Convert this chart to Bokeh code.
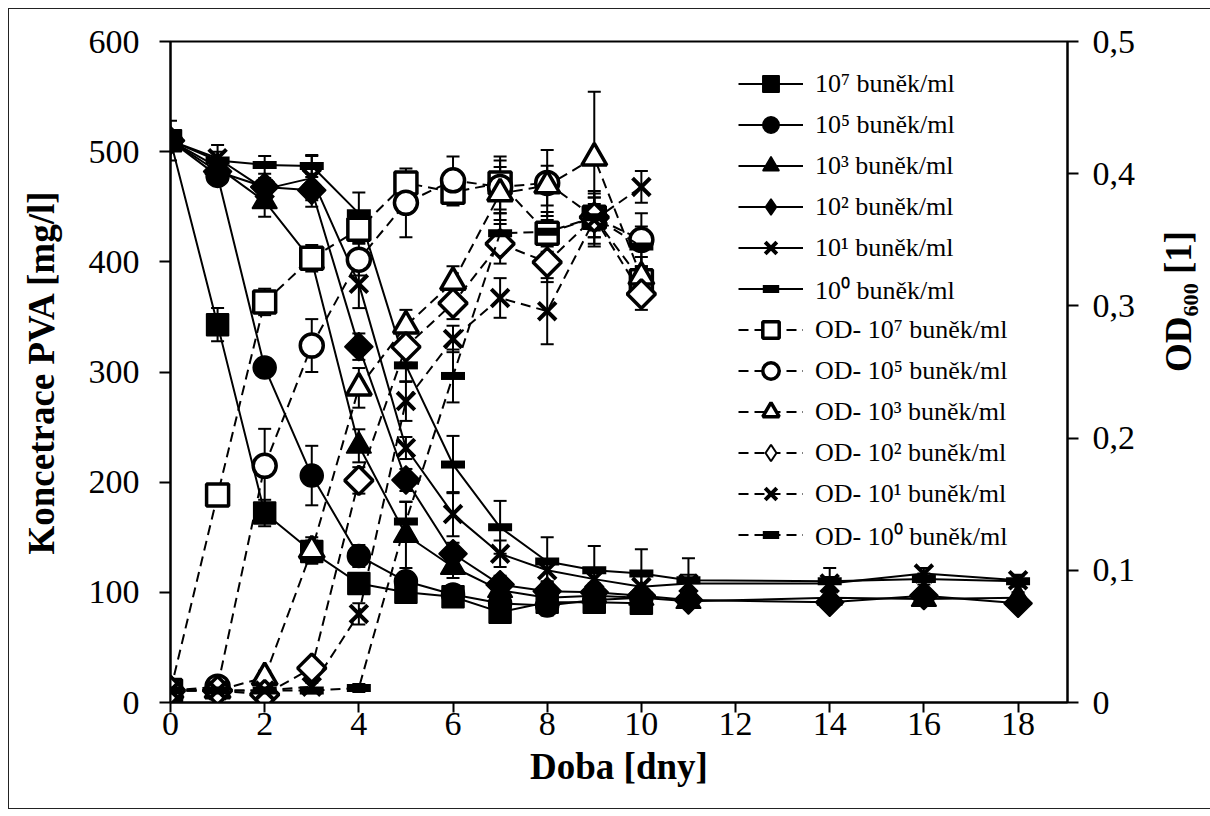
import math
from bokeh.plotting import figure
from bokeh.models import (Range1d, LinearAxis, FixedTicker, Legend, LegendItem,
                          Whisker, ColumnDataSource, TeeHead)
from bokeh.embed import file_html
from bokeh.resources import INLINE

# ---------------- data ----------------
days_a = [0, 1, 2, 3, 4, 5, 6, 7, 8, 9, 10]
days_b = [0, 1, 2, 3, 4, 5, 6, 7, 8, 9, 10, 11, 14, 16, 18]

pva_1e7 = [510, 343, 172, 137, 108, 100, 96, 82, 91, 91, 90]
pva_1e7_err = [5, 15, 12, 10, 5, 4, 4, 5, 5, 4, 4]
pva_1e5 = [510, 478, 304, 206, 133, 110, 98, 90, 88, 93, 95]
pva_1e5_err = [5, 8, 5, 27, 10, 6, 5, 5, 9, 5, 5]
pva_1e3 = [510, 486, 455, 401, 233, 152, 123, 102, 95, 97, 95, 92, 95, 94, 95]
pva_1e3_err = [5, 8, 14, 8, 15, 30, 10, 8, 8, 8, 8, 6, 5, 5, 5]
pva_1e2 = [510, 482, 468, 465, 323, 202, 135, 107, 101, 100, 97, 93, 91, 97, 90]
pva_1e2_err = [5, 8, 8, 15, 12, 10, 10, 8, 8, 8, 8, 6, 5, 5, 5]
pva_1e1 = [510, 494, 466, 476, 380, 231, 171, 135, 120, 112, 105, 108, 108, 117, 111]
pva_1e1_err = [5, 12, 8, 20, 22, 10, 20, 12, 10, 10, 10, 8, 6, 5, 5]
pva_1e0 = [510, 492, 488, 487, 444, 306, 216, 159, 128, 120, 117, 111, 110, 112, 110]
pva_1e0_err = [18, 8, 8, 10, 19, 15, 26, 24, 22, 22, 22, 20, 12, 5, 5]

od_1e7 = [0.009, 0.157, 0.303, 0.336, 0.358, 0.393, 0.386, 0.393, 0.355, 0.367, 0.319]
od_1e7_err = [0.002, 0.008, 0.010, 0.010, 0.010, 0.008, 0.010, 0.020, 0.010, 0.010, 0.010]
od_1e5 = [0.009, 0.012, 0.179, 0.270, 0.335, 0.378, 0.395, 0.390, 0.393, 0.367, 0.350]
od_1e5_err = [0.002, 0.005, 0.028, 0.020, 0.012, 0.026, 0.018, 0.020, 0.025, 0.020, 0.020]
od_1e3 = [0.009, 0.009, 0.019, 0.115, 0.238, 0.285, 0.318, 0.385, 0.391, 0.412, 0.322]
od_1e3_err = [0.002, 0.003, 0.005, 0.010, 0.015, 0.012, 0.012, 0.020, 0.015, 0.050, 0.015]
od_1e2 = [0.009, 0.009, 0.006, 0.026, 0.168, 0.269, 0.302, 0.347, 0.333, 0.367, 0.309]
od_1e2_err = [0.002, 0.002, 0.003, 0.005, 0.010, 0.012, 0.012, 0.015, 0.015, 0.015, 0.012]
od_1e1 = [0.009, 0.009, 0.009, 0.012, 0.067, 0.228, 0.275, 0.306, 0.296, 0.365, 0.390]
od_1e1_err = [0.002, 0.002, 0.002, 0.003, 0.008, 0.015, 0.010, 0.015, 0.025, 0.020, 0.012]
od_1e0 = [0.009, 0.009, 0.009, 0.009, 0.011, 0.137, 0.247, 0.355, 0.356, 0.367, 0.345]
od_1e0_err = [0.002, 0.002, 0.002, 0.002, 0.003, 0.015, 0.020, 0.015, 0.015, 0.015, 0.015]

pva_labels = ["10\u2077 bun\u011bk/ml", "10\u2075 bun\u011bk/ml", "10\u00b3 bun\u011bk/ml",
              "10\u00b2 bun\u011bk/ml", "10\u00b9 bun\u011bk/ml", "10\u2070 bun\u011bk/ml"]
od_labels = ["OD- " + s for s in pva_labels]

x_ticks = [0, 2, 4, 6, 8, 10, 12, 14, 16, 18]
y_ticks = [0, 100, 200, 300, 400, 500, 600]
od_ticks = [0, 0.1, 0.2, 0.3, 0.4, 0.5]
od_tick_labels = ["0", "0,1", "0,2", "0,3", "0,4", "0,5"]

# ---------------- figure ----------------
FONT = "Liberation Serif"
p = figure(frame_width=897, frame_height=661, output_backend="svg", toolbar_location=None,
           x_range=Range1d(0, 19.05), y_range=Range1d(0, 600),
           min_border_left=161, min_border_right=133, min_border_top=32, min_border_bottom=106)
p.styles = {"border": "1px solid #222", "margin-left": "8px", "margin-top": "8px"}
p.extra_y_ranges = {"od": Range1d(0, 0.5)}
p.xgrid.visible = False
p.ygrid.visible = False
p.outline_line_color = "black"
p.outline_line_width = 2
p.background_fill_color = "white"
p.border_fill_color = "white"

def style_axis(ax):
    ax.axis_line_width = 2
    ax.axis_line_color = "black"
    ax.major_tick_line_width = 2
    ax.major_tick_line_color = "black"
    ax.major_tick_out = 11
    ax.major_tick_in = 0
    ax.minor_tick_out = 0
    ax.minor_tick_in = 0
    ax.major_label_text_font = FONT
    ax.major_label_text_font_size = "34px"
    ax.major_label_text_color = "black"
    ax.axis_label_text_font = FONT
    ax.axis_label_text_font_style = "bold"
    ax.axis_label_text_font_size = "37px"
    ax.axis_label_text_color = "black"

xa = p.xaxis[0]
style_axis(xa)
xa.ticker = FixedTicker(ticks=x_ticks)
xa.axis_label = "Doba [dny]"
xa.major_tick_out = 10
xa.major_label_standoff = 0
xa.axis_label_standoff = 8

ya = p.yaxis[0]
style_axis(ya)
ya.ticker = FixedTicker(ticks=y_ticks)
ya.axis_label = "Koncetrace PVA [mg/l]"
ya.major_label_standoff = 20
ya.axis_label_standoff = 24

ra = LinearAxis(y_range_name="od")
style_axis(ra)
ra.ticker = FixedTicker(ticks=od_ticks)
ra.major_label_overrides = {t: l for t, l in zip(od_ticks, od_tick_labels)}
ra.axis_label = "OD\u2086\u2080\u2080 [1]"
ra.axis_label_orientation = math.pi / 2
ra.major_label_standoff = 14
ra.axis_label_standoff = 40
p.add_layout(ra, "right")

def add_whisker(x, y, err, rng=None):
    src = ColumnDataSource(dict(x=x, upper=[a + b for a, b in zip(y, err)],
                                lower=[a - b for a, b in zip(y, err)]))
    kw = dict(base="x", upper="upper", lower="lower", source=src, dimension="height",
              line_width=2, line_color="black",
              upper_head=TeeHead(size=13, line_width=2, line_color="black"),
              lower_head=TeeHead(size=13, line_width=2, line_color="black"))
    if rng:
        kw["y_range_name"] = rng
    p.add_layout(Whisker(**kw))

pva_series = [
    (days_a, pva_1e7, pva_1e7_err, dict(marker="square", size=22)),
    (days_a, pva_1e5, pva_1e5_err, dict(marker="circle", size=23)),
    (days_b, pva_1e3, pva_1e3_err, dict(marker="triangle", size=25)),
    (days_b, pva_1e2, pva_1e2_err, dict(marker="square", size=20, angle=math.pi / 4)),
    (days_b, pva_1e1, pva_1e1_err, dict(marker="x", size=25)),
    (days_b, pva_1e0, pva_1e0_err, dict(marker="dash", size=24)),
]
od_series = [
    (days_a, od_1e7, od_1e7_err, dict(marker="square", size=22)),
    (days_a, od_1e5, od_1e5_err, dict(marker="circle", size=23)),
    (days_a, od_1e3, od_1e3_err, dict(marker="triangle", size=25)),
    (days_a, od_1e2, od_1e2_err, dict(marker="square", size=20, angle=math.pi / 4)),
    (days_a, od_1e1, od_1e1_err, dict(marker="x", size=25)),
    (days_a, od_1e0, od_1e0_err, dict(marker="dash", size=24)),
]

def marker_style(name, filled):
    if name == "x":
        return dict(line_color="black", line_width=4)
    if name == "dash":
        return dict(line_color="black", line_width=8)
    if filled:
        return dict(fill_color="black", line_color="black", line_width=1.5)
    return dict(fill_color="white", line_color="black", line_width=3.5)

# legend-only swatch (placed outside the visible ranges) for the diamond markers,
# because rotated squares are drawn unrotated in legends
OFF = [-100]

items = []
for (x, y, e, mk), lab in zip(pva_series, pva_labels):
    add_whisker(x, y, e)
    lr = p.line(x, y, line_color="black", line_width=2)
    sr = p.scatter(x, y, **mk, **marker_style(mk["marker"], True))
    rends = [lr, sr]
    if "angle" in mk:
        lg = p.scatter(OFF, OFF, marker="diamond", size=22, fill_color="black",
                       line_color="black", line_width=1.5)
        rends = [lr, lg]
    items.append(LegendItem(label=lab, renderers=rends))

for (x, y, e, mk), lab in zip(od_series, od_labels):
    add_whisker(x, y, e, "od")
    lr = p.line(x, y, line_color="black", line_width=2, line_dash="10 6", y_range_name="od")
    sr = p.scatter(x, y, y_range_name="od", **mk, **marker_style(mk["marker"], False))
    rends = [lr, sr]
    if "angle" in mk:
        lg = p.scatter(OFF, OFF, marker="diamond", size=22, fill_color="white",
                       line_color="black", line_width=2, y_range_name="od")
        rends = [lr, lg]
    items.append(LegendItem(label=lab, renderers=rends))

legend = Legend(items=items, location=(568, 147), orientation="vertical",
                glyph_width=65, glyph_height=41, spacing=0, padding=0, margin=0,
                label_standoff=12, label_text_font=FONT, label_text_font_size="26px",
                label_text_color="black", border_line_color=None,
                background_fill_alpha=0, label_height=41)
p.add_layout(legend, "center")

open("out.html", "w").write(file_html(p, INLINE))
